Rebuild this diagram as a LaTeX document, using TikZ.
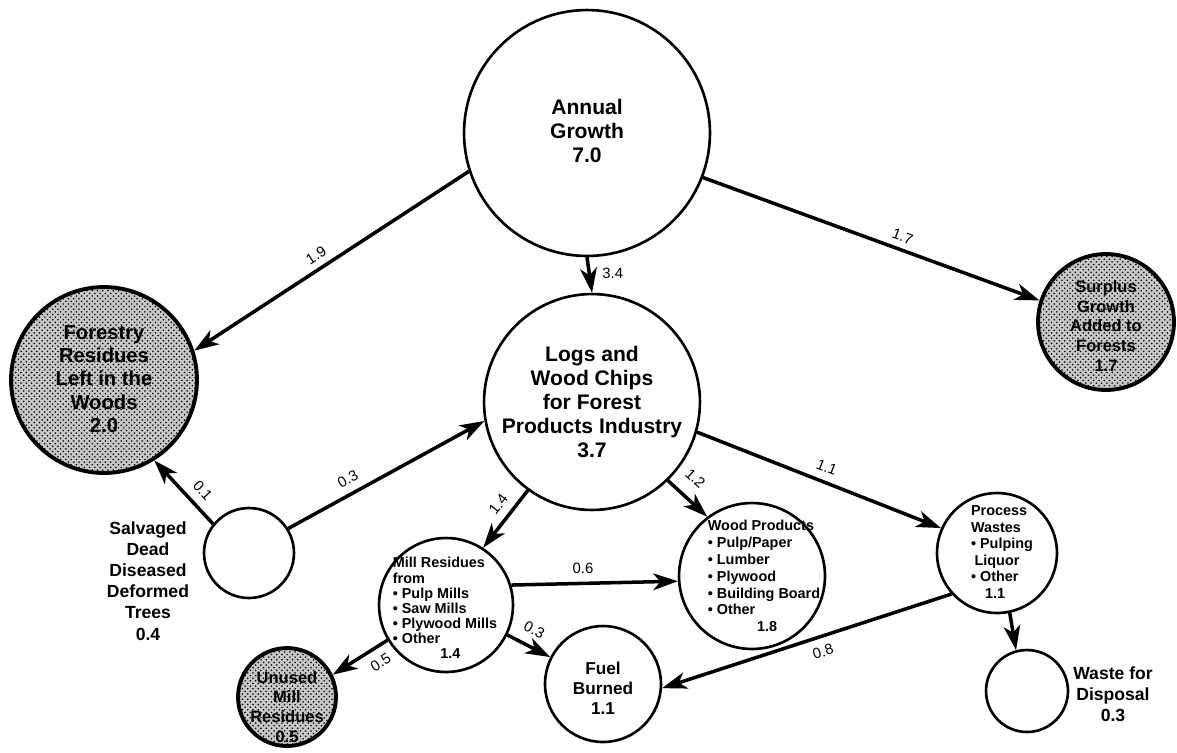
\documentclass[tikz,border=0pt]{standalone}
\usepackage{fontspec}
\setmainfont{Liberation Sans}
\usetikzlibrary{arrows.meta,patterns}

\tikzset{
  circ/.style={circle, draw, line width=1.5pt, minimum size=#1*0.04cm, inner sep=0pt},
  shaded/.style={preaction={fill=black!22}, pattern=crosshatch dots, line width=2.2pt},
  flow/.style={line width=2pt, -{Stealth[length=14pt, width=9.5pt, inset=4pt]}},
  lab/.style={font=\fontsize{8.5}{9}\selectfont, inner sep=1.5pt},
  bigtxt/.style={font=\fontsize{12}{13.6}\selectfont\bfseries, align=center},
  midtxt/.style={font=\fontsize{9.8}{11.5}\selectfont\bfseries, align=center},
  listtxt/.style={font=\fontsize{8.2}{#1}\selectfont\bfseries, align=left, inner sep=0pt},
}

\begin{document}
\begin{tikzpicture}[x=0.02cm,y=-0.02cm]
   \useasboundingbox (0,0) rectangle (1177,752);

   % circles
   \node[circ=123](annual) at (587,133) {};
   \node[circ=108](logs) at (592,402) {};
   \node[circ=93, shaded](forestry) at (104,380) {};
   \node[circ=68, shaded](surplus) at (1106,322) {};
   \node[circ=45](salv) at (249,553) {};
   \node[circ=67](mill) at (446,605) {};
   \node[circ=73](wood) at (752,576) {};
   \node[circ=60](proc) at (997,553) {};
   \node[circ=58](fuel) at (603,684) {};
   \node[circ=41](waste) at (1027,691) {};
   \node[circ=49, shaded](unused) at (287,697) {};

   % texts
   \node[bigtxt](annualT) at (587,131) {Annual\\Growth\\7.0};
   \node[bigtxt](logsT) at (592,402) {Logs and\\Wood Chips\\for Forest\\Products Industry\\3.7};
   \node[bigtxt, font=\fontsize{11.5}{13.3}\selectfont\bfseries](forestryT) at (104,379) {Forestry\\Residues\\Left in the\\Woods\\2.0};
   \node[midtxt, font=\fontsize{9.4}{11.3}\selectfont\bfseries](surplusT) at (1106,326) {Surplus\\Growth\\Added to\\Forests\\1.7};
   \node[midtxt, font=\fontsize{9.4}{11.3}\selectfont\bfseries](unusedT) at (287,707) {Unused\\Mill\\Residues\\0.5};
   \node[midtxt, font=\fontsize{10}{12}\selectfont\bfseries](salvT) at (148,581) {Salvaged\\Dead\\Diseased\\Deformed\\Trees\\0.4};
   \node[midtxt](fuelT) at (603,688) {Fuel\\Burned\\1.1};
   \node[midtxt, font=\fontsize{10}{12}\selectfont\bfseries](wasteT) at (1113,694) {Waste for\\Disposal\\0.3};
   \node[listtxt=8.6](millT) at (445,608) {Mill Residues\\from\\• Pulp Mills\\• Saw Mills\\• Plywood Mills\\• Other\\\hspace*{27pt}1.4};
   \node[listtxt=9.6](woodT) at (764,576) {Wood Products\\• Pulp/Paper\\• Lumber\\• Plywood\\• Building Board\\• Other\\\hspace*{28pt}1.8};
   \node[listtxt=9.4](procT) at (1002,552) {Process\\Wastes\\• Pulping\\\hspace*{2pt}Liquor\\• Other\\\hspace*{8pt}1.1};

   % flows
   \draw[flow](annual.198) to node[lab, sloped, above=2pt, pos=0.53]{1.9} (forestry.18);
   \draw[flow](annual.-21) to node[lab, sloped, above=2pt, pos=0.58]{1.7} (surplus.162);
   \draw[flow](annual.south) to node[lab, right=5pt, pos=0.45]{3.4} (logs.north);
   \draw[flow](salv.141) to node[lab, sloped, above=3pt, pos=0.36]{0.1} (forestry.-58);
   \draw[flow](salv.32) to node[lab, sloped, above=3pt, pos=0.34]{0.3} (logs.190);
   \draw[flow](logs.234) to node[lab, sloped, above=3pt, pos=0.4]{1.4} (mill.57);
   \draw[flow](logs.-46) to node[lab, sloped, above=6pt, pos=0.35]{1.2} (wood.127);
   \draw[flow](logs.-16) to node[lab, sloped, above=3pt, pos=0.51]{1.1} (proc.156);
   \draw[flow](mill.17) to node[lab, above=3pt, pos=0.43]{0.6} (wood.184);
   \draw[flow](mill.-26) to node[lab, sloped, above=4pt, pos=0.45]{0.3} (fuel.153);
   \draw[flow](mill.211) to node[lab, sloped, below=3pt, pos=0.27]{0.5} (unused.26);
   \draw[flow](proc.222) to node[lab, sloped, below=3pt, pos=0.46]{0.8} (fuel.-4);
   \draw[flow](proc.-78) to (waste.105);

\end{tikzpicture}
\end{document}
